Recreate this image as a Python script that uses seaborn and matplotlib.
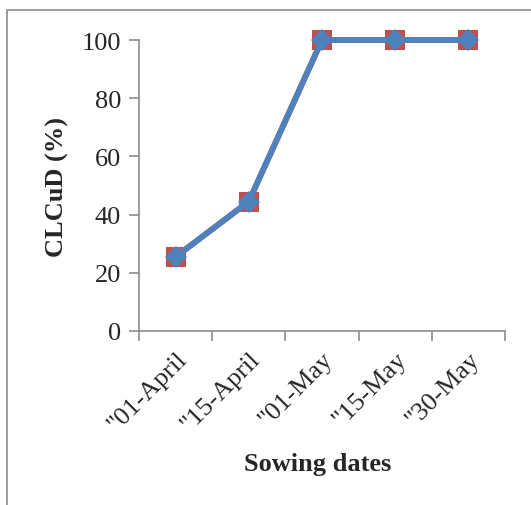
import matplotlib
matplotlib.use("Agg")
import matplotlib.pyplot as plt
import seaborn as sns
import pandas as pd
from matplotlib.patches import Rectangle

categories = ['"01-April', '"15-April', '"01-May', '"15-May', '"30-May']
series_red = [25.5, 44.5, 100, 100, 100]
series_blue = [25.5, 44.5, 100, 100, 100]
y_ticks = [0, 20, 40, 60, 80, 100]

sns.set_theme(style="white")
plt.rcParams['font.family'] = ['Liberation Serif', 'DejaVu Serif']

fig = plt.figure(figsize=(5.31, 5.06), dpi=100)
ax = fig.add_axes([139/531, 1 - 332/506, (505-139)/531, (332-41)/506])

pos = list(range(len(categories)))
df_red = pd.DataFrame({"x": pos, "y": series_red})
df_blue = pd.DataFrame({"x": pos, "y": series_blue})

sns.lineplot(data=df_red, x="x", y="y", ax=ax, color="#C0504D", linewidth=4.2,
             marker="s", markersize=14.5, markeredgewidth=0, markerfacecolor="#C0504D",
             clip_on=False)
sns.lineplot(data=df_blue, x="x", y="y", ax=ax, color="#4F81BD", linewidth=4.2,
             marker="D", markersize=11, markeredgewidth=0, markerfacecolor="#4F81BD",
             clip_on=False)

ax.set_xlim(-0.5, len(categories) - 0.5)
ax.set_ylim(0, 100)
ax.set_yticks(y_ticks)
ax.set_yticklabels([str(v) for v in y_ticks], fontsize=19)

ax.set_xticks([i - 0.5 for i in range(len(categories) + 1)])
ax.set_xticklabels([])
ax.set_xticks(pos, minor=True)
ax.set_xticklabels(categories, minor=True, rotation=45, ha="right",
                   rotation_mode="anchor", fontsize=19)
ax.tick_params(axis="x", which="minor", length=0, pad=12)
ax.tick_params(axis="x", which="major", length=7, width=1.2, color="#8c8c8c", direction="out")
ax.tick_params(axis="y", length=7, width=1.2, color="#8c8c8c", direction="out", pad=6)
ax.tick_params(axis="x", bottom=True, which="both")
ax.tick_params(axis="y", left=True)

for s in ["top", "right"]:
    ax.spines[s].set_visible(False)
for s in ["left", "bottom"]:
    ax.spines[s].set_color("#8c8c8c")
    ax.spines[s].set_linewidth(1.2)

ax.set_xlabel("")
ax.set_ylabel("")
fig.text(318/531, 1 - 465/506, "Sowing dates", fontsize=19, fontweight="bold",
         ha="center", va="center")
fig.text(57/531, 1 - 187/506, "CLCuD (%)", fontsize=19, fontweight="bold",
         ha="center", va="center", rotation=90)

fig.patches.append(Rectangle((7/531, -0.05), 1.2, 1 - 11/506 + 0.05,
                             transform=fig.transFigure, fill=False,
                             edgecolor="#8c8c8c", linewidth=1.2))

fig.savefig("out.png", dpi=100)
